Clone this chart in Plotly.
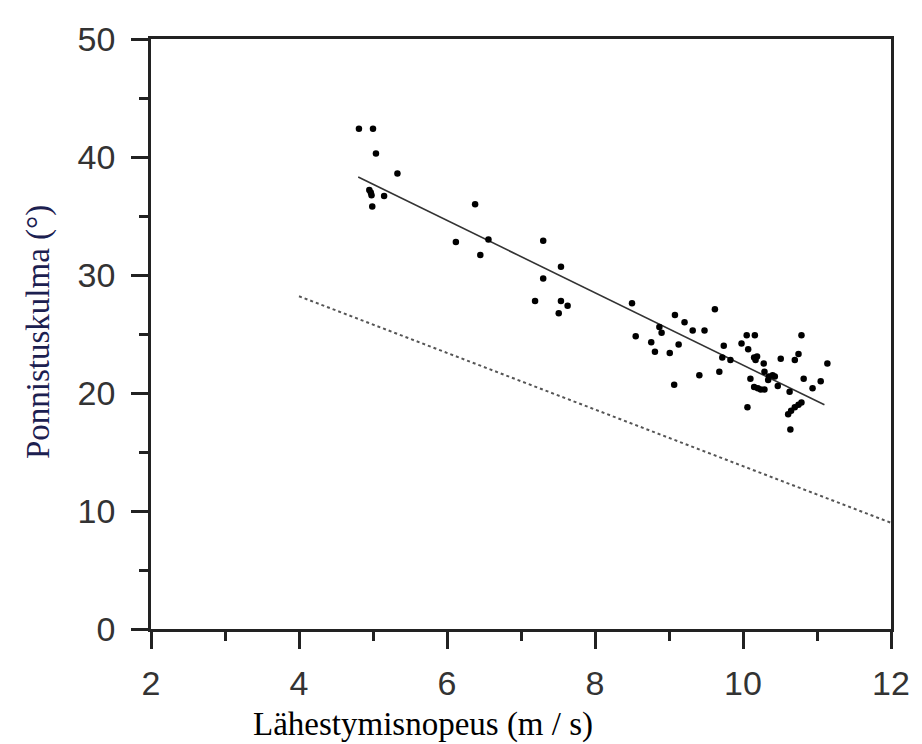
import plotly.graph_objects as go

# Mittauspisteet: lähestymisnopeus (m/s) ja ponnistuskulma (astetta)
nopeus = [4.81, 5.00, 5.04, 5.33, 4.95, 4.97, 4.98, 5.15, 4.99,
          6.38, 6.12, 6.56, 6.45,
          7.30, 7.54, 7.30, 7.19, 7.54, 7.63, 7.51,
          8.50, 8.55, 8.76, 8.81, 8.87, 8.90, 9.01, 9.08, 9.13, 9.07,
          9.21, 9.32, 9.48, 9.41, 9.62, 9.68, 9.74, 9.72, 9.83,
          9.98, 10.05, 10.16, 10.07, 10.15, 10.17, 10.19, 10.28, 10.10,
          10.15, 10.20, 10.24, 10.29, 10.29, 10.35, 10.40, 10.43, 10.34,
          10.47, 10.51, 10.06, 10.63, 10.70, 10.75, 10.79, 10.82,
          10.61, 10.65, 10.70, 10.75, 10.79, 10.64, 10.94, 11.05, 11.14]
kulma = [42.4, 42.4, 40.3, 38.6, 37.2, 37.0, 36.75, 36.7, 35.8,
         36.0, 32.8, 33.0, 31.7,
         32.9, 30.7, 29.7, 27.8, 27.8, 27.4, 26.75,
         27.6, 24.8, 24.3, 23.5, 25.6, 25.1, 23.4, 26.6, 24.1, 20.7,
         26.0, 25.3, 25.3, 21.5, 27.1, 21.8, 24.0, 23.0, 22.8,
         24.2, 24.9, 24.9, 23.7, 23.0, 22.8, 23.1, 22.5, 21.2,
         20.5, 20.4, 20.3, 20.3, 21.8, 21.4, 21.5, 21.4, 21.1,
         20.6, 22.9, 18.8, 20.1, 22.8, 23.3, 24.9, 21.2,
         18.2, 18.5, 18.8, 19.0, 19.2, 16.9, 20.4, 21.0, 22.5]

# Regressiosuora ja pisteviiva (päätepisteet)
suora_x = [4.8, 11.1]
suora_y = [38.3, 19.0]
piste_x = [4.0, 12.0]
piste_y = [28.2, 9.0]

fig = go.Figure()

fig.add_trace(go.Scatter(x=piste_x, y=piste_y, mode='lines',
                         line=dict(color='#555555', width=2, dash='dot'),
                         hoverinfo='none'))
fig.add_trace(go.Scatter(x=suora_x, y=suora_y, mode='lines',
                         line=dict(color='#333333', width=1.6),
                         hoverinfo='none'))
fig.add_trace(go.Scatter(x=nopeus, y=kulma, mode='markers',
                         marker=dict(color='black', size=6.5)))

akseli = dict(showgrid=False, zeroline=False, showline=True, mirror=True,
              linecolor='#222222', linewidth=2.5, ticks='outside', ticklen=17,
              tickwidth=2.5, tickcolor='#222222',
              tickfont=dict(family='Liberation Sans, Arial', size=34, color='#333333'))
pienet = dict(ticks='outside', ticklen=9, tickwidth=2.5, tickcolor='#222222')

fig.update_xaxes(range=[2, 12], tickvals=[2, 4, 6, 8, 10, 12], ticklabelstandoff=5,
                 minor=dict(tickvals=[3, 5, 7, 9, 11], **pienet), **akseli)
fig.update_yaxes(range=[0, 50], tickvals=[0, 10, 20, 30, 40, 50], ticklabelstandoff=9,
                 minor=dict(tickvals=[5, 15, 25, 35, 45], **pienet), **akseli)

fig.add_annotation(text='Lähestymisnopeus (m / s)', xref='paper', yref='paper',
                   x=0.368, y=-0.162, xanchor='center', yanchor='middle',
                   showarrow=False,
                   font=dict(family='Liberation Serif, Times New Roman', size=33, color='black'))
fig.add_annotation(text='Ponnistuskulma (°)', xref='paper', yref='paper',
                   x=-0.152, y=0.5025, xanchor='center', yanchor='middle',
                   textangle=-90, showarrow=False,
                   font=dict(family='Liberation Serif, Times New Roman', size=33, color='#1c2050'))

# sivun oletusmarginaali (8 px) huomioitu
fig.update_layout(width=914, height=736, showlegend=False,
                  plot_bgcolor='white', paper_bgcolor='white',
                  margin=dict(l=143, r=30, t=26, b=115))

fig.write_html("out.html")
